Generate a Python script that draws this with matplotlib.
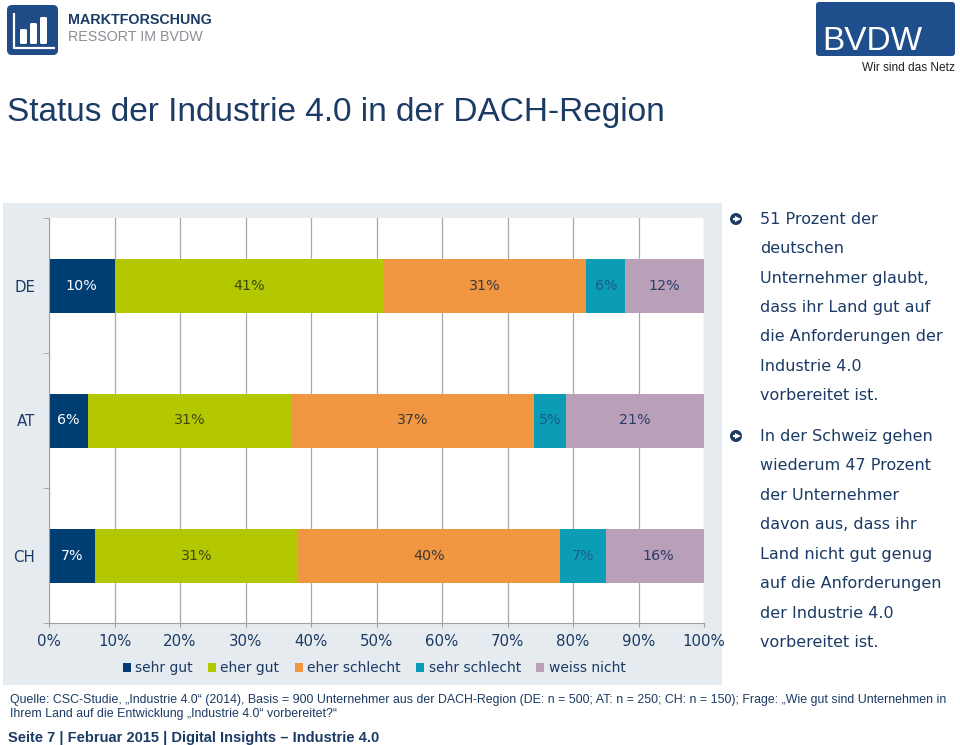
import numpy as np
import matplotlib
matplotlib.use("Agg")
import matplotlib.pyplot as plt
from matplotlib.patches import Rectangle, FancyBboxPatch, Circle

# data
countries = ["DE", "AT", "CH"]
categories = ["sehr gut", "eher gut", "eher schlecht", "sehr schlecht", "weiss nicht"]
sehr_gut = [10, 6, 7]
eher_gut = [41, 31, 31]
eher_schlecht = [31, 37, 40]
sehr_schlecht = [6, 5, 7]
weiss_nicht = [12, 21, 16]
xticks = [0, 10, 20, 30, 40, 50, 60, 70, 80, 90, 100]

title = "Status der Industrie 4.0 in der DACH-Region"
bullet_1 = ["51 Prozent der", "deutschen", "Unternehmer glaubt,", "dass ihr Land gut auf",
            "die Anforderungen der", "Industrie 4.0", "vorbereitet ist."]
bullet_2 = ["In der Schweiz gehen", "wiederum 47 Prozent", "der Unternehmer", "davon aus, dass ihr",
            "Land nicht gut genug", "auf die Anforderungen", "der Industrie 4.0", "vorbereitet ist."]
source_1 = ("Quelle: CSC-Studie, \u201eIndustrie 4.0\u201c (2014), Basis = 900 Unternehmer aus der DACH-Region "
            "(DE: n = 500; AT: n = 250; CH: n = 150); Frage: \u201eWie gut sind Unternehmen in")
source_2 = "Ihrem Land auf die Entwicklung \u201eIndustrie 4.0\u201c vorbereitet?\u201c"
footer = "Seite 7 | Februar 2015 | Digital Insights \u2013 Industrie 4.0"

colors = ["#003d73", "#b3c800", "#f29741", "#0a9db5", "#b99fb8"]
label_colors = ["white", "#3c4a12", "#3a3a3a", "#1c5c86", "#2a3d68"]
navy = "#1b3a64"

fig = plt.figure(figsize=(9.6, 7.45), dpi=100)

# background axes in pixel coords for panel, logos, text
bg = fig.add_axes([0, 0, 1, 1], zorder=0)
bg.set_xlim(0, 960)
bg.set_ylim(745, 0)
bg.axis("off")

bg.add_patch(Rectangle((3, 203), 719, 482, color="#e6ebf0", lw=0))

# left logo
bg.add_patch(FancyBboxPatch((7, 5), 51, 50, boxstyle="round,pad=0,rounding_size=5", color="#1f4c87", lw=0))
bg.plot([14, 14, 55], [13, 48, 48], color="white", lw=1.6, solid_capstyle="butt")
for bx, top in [(20, 29), (30, 23), (40, 17)]:
    bg.add_patch(FancyBboxPatch((bx, top), 7, 44 - top, boxstyle="round,pad=0,rounding_size=1.5", color="white", lw=0))
bg.text(68, 20, "MARKTFORSCHUNG", fontsize=10.3, fontweight="bold", color=navy,
        family="Liberation Sans", va="center", ha="left")
bg.text(68, 37, "RESSORT IM BVDW", fontsize=10.3, color="#8a8f96",
        family="Liberation Sans", va="center", ha="left")

# right logo
bg.add_patch(FancyBboxPatch((816, 2), 139, 54, boxstyle="round,pad=0,rounding_size=3", color="#1f4e8c", lw=0))
bg.text(822, 41, "BVDW", fontsize=24, color="white", family="Liberation Sans", va="center", ha="left")
bg.text(955, 68, "Wir sind das Netz", fontsize=8.6, color="#222222", family="Liberation Sans",
        va="center", ha="right")

# title
bg.text(7, 112, title, fontsize=24, color=navy, family="Liberation Sans", va="center", ha="left")

# bullets on the right
def bullet(y0, lines):
    bg.add_patch(Circle((736, y0), 6, color=navy, lw=0))
    bg.plot([732.5, 737], [y0, y0], color="white", lw=1.6, solid_capstyle="butt")
    bg.plot([738.3], [y0], marker=">", ms=4.2, color="white", mew=0)
    for i, line in enumerate(lines):
        bg.text(760, y0 + i * 29.5, line, fontsize=11.5, color=navy, va="center", ha="left")

bullet(219, bullet_1)
bullet(436, bullet_2)

# source and footer
bg.text(10, 700, source_1, fontsize=8.9, color=navy, family="Liberation Sans", va="center", ha="left")
bg.text(10, 714, source_2, fontsize=8.9, color=navy, family="Liberation Sans", va="center", ha="left")
bg.text(8, 738, footer, fontsize=10.5, fontweight="bold", color=navy, family="Liberation Sans",
        va="center", ha="left")

# chart
ax = fig.add_axes([49 / 960, 1 - 623 / 745, 655 / 960, 405 / 745], zorder=1)
ax.set_facecolor("white")

y = np.arange(len(countries))[::-1]
series = [sehr_gut, eher_gut, eher_schlecht, sehr_schlecht, weiss_nicht]
left = np.zeros(len(countries))
for vals, name, c, tc in zip(series, categories, colors, label_colors):
    vals = np.array(vals)
    ax.barh(y, vals, left=left, height=0.4, color=c, label=name, zorder=2)
    for yi, l, v in zip(y, left, vals):
        ax.text(l + v / 2, yi, str(v) + "%", color=tc, fontsize=10.3, ha="center", va="center", zorder=3)
    left = left + vals

ax.set_xlim(0, 100)
ax.set_ylim(-0.5, 2.5)
ax.set_xticks(xticks)
ax.set_xticklabels([str(t) + "%" for t in xticks])
ax.set_yticks(y)
ax.set_yticklabels(countries)
ax.set_yticks([-0.5, 0.5, 1.5, 2.5], minor=True)
ax.grid(axis="x", color="#a8a8a8", lw=0.9, zorder=0)
ax.set_axisbelow(True)
for s in ["top", "right"]:
    ax.spines[s].set_visible(False)
for s in ["left", "bottom"]:
    ax.spines[s].set_color("#a0a0a0")
ax.tick_params(axis="x", length=3, color="#a0a0a0", labelsize=10.8, labelcolor=navy, pad=5)
ax.tick_params(axis="y", which="major", length=0, labelsize=10.8, labelcolor=navy, pad=10)
ax.tick_params(axis="y", which="minor", length=4, color="#a0a0a0")

fig.legend(loc="center", bbox_to_anchor=(374 / 960, 1 - 668 / 745), ncol=5, frameon=False,
           fontsize=10, handlelength=0.6, handleheight=0.6, handletextpad=0.3, columnspacing=1.1,
           labelcolor=navy)

plt.savefig("out.png", dpi=100)
